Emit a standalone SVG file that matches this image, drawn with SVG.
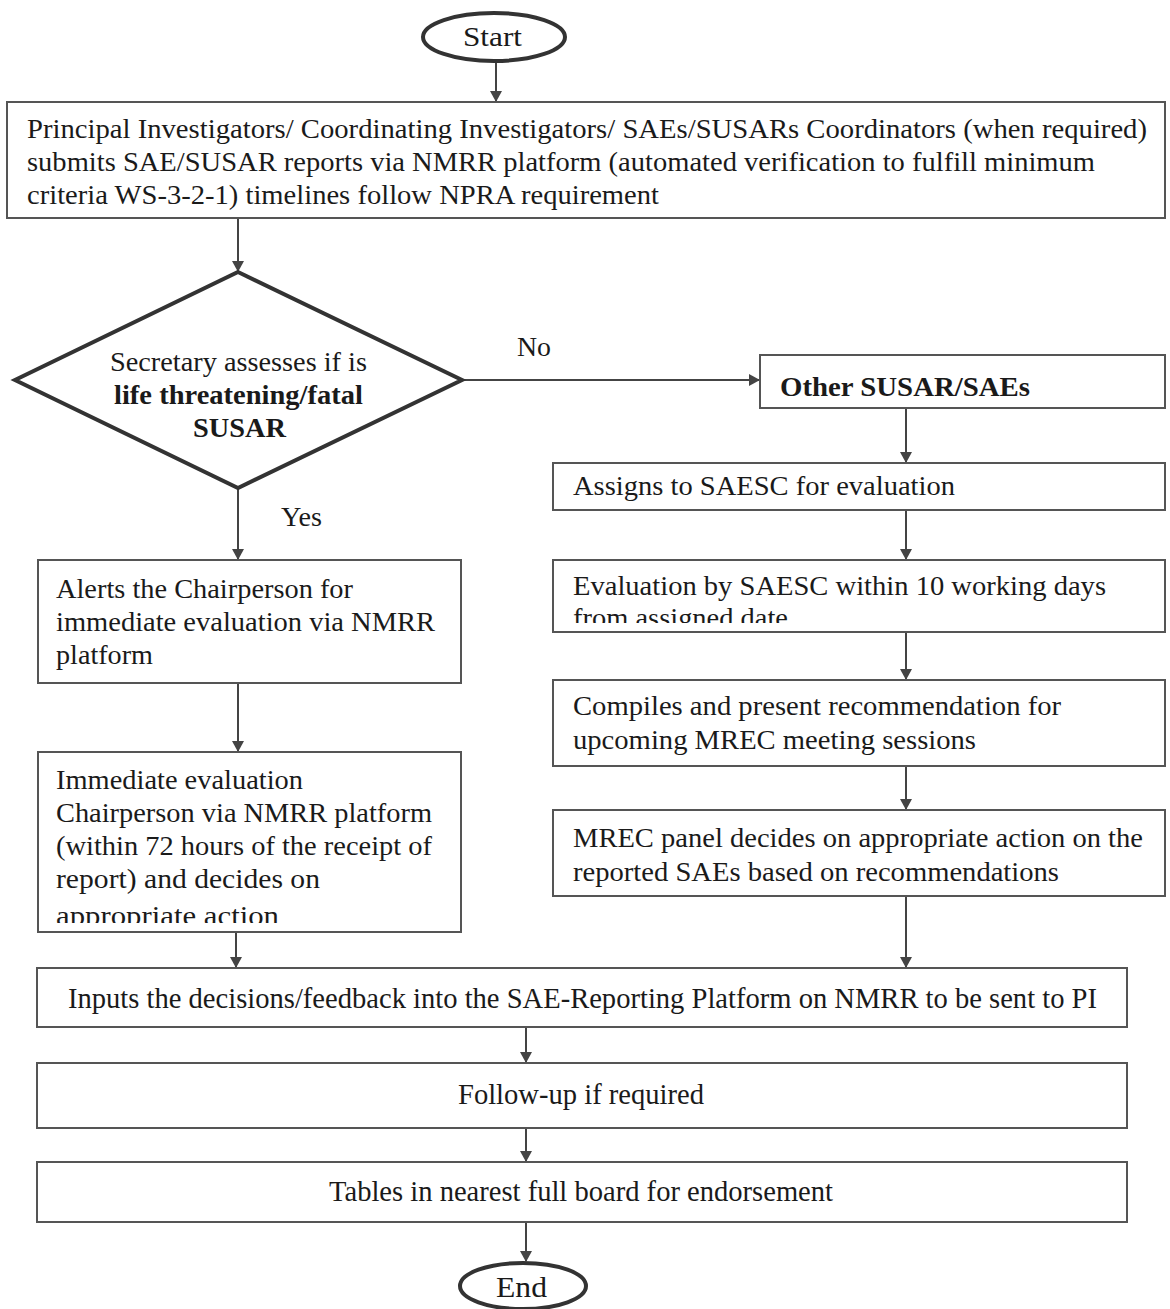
<svg xmlns="http://www.w3.org/2000/svg" width="1170" height="1309" viewBox="0 0 1170 1309">
<style>
text{font-family:"Liberation Serif","Times New Roman",serif;font-size:28px;fill:#1a1a1a}
.b{font-weight:bold}
.box{fill:#fff;stroke:#555;stroke-width:2}
.thick{fill:#fff;stroke:#333;stroke-width:4}
.c{stroke:#444;stroke-width:2;fill:none;marker-end:url(#ah)}
.t{font-size:30px}
</style>
<defs>
<marker id="ah" markerWidth="12" markerHeight="12" refX="10" refY="6" orient="auto" markerUnits="userSpaceOnUse">
<path d="M0,0 L11,6 L0,12 Z" fill="#444"/>
</marker>
<clipPath id="cEval"><rect x="553" y="560" width="612" height="63"/></clipPath>
<clipPath id="cImm"><rect x="38" y="752" width="423" height="171"/></clipPath>
</defs>
<g id="connectors">
<line class="c" x1="496" y1="62" x2="496" y2="101"/>
<line class="c" x1="238" y1="218" x2="238" y2="271"/>
<line class="c" x1="462" y1="380" x2="759" y2="380"/>
<line class="c" x1="238" y1="488" x2="238" y2="559"/>
<line class="c" x1="906" y1="408" x2="906" y2="462"/>
<line class="c" x1="906" y1="510" x2="906" y2="559"/>
<line class="c" x1="906" y1="632" x2="906" y2="679"/>
<line class="c" x1="906" y1="766" x2="906" y2="809"/>
<line class="c" x1="906" y1="896" x2="906" y2="967"/>
<line class="c" x1="238" y1="683" x2="238" y2="751"/>
<line class="c" x1="236" y1="932" x2="236" y2="967"/>
<line class="c" x1="526" y1="1027" x2="526" y2="1062"/>
<line class="c" x1="526" y1="1128" x2="526" y2="1161"/>
<line class="c" x1="526" y1="1222" x2="526" y2="1261"/>
<text x="517" y="356" textLength="34" lengthAdjust="spacingAndGlyphs">No</text>
<text x="281" y="526" textLength="41" lengthAdjust="spacingAndGlyphs">Yes</text>
</g>
<g id="start">
<ellipse class="thick" cx="494" cy="37" rx="71" ry="24"/>
<text x="463" y="46" textLength="59" lengthAdjust="spacingAndGlyphs">Start</text>
</g>
<g id="submit">
<rect class="box" x="7" y="102" width="1158" height="116"/>
<text x="27" y="138" textLength="1120" lengthAdjust="spacingAndGlyphs">Principal Investigators/ Coordinating Investigators/ SAEs/SUSARs Coordinators (when required)</text>
<text x="27" y="171" textLength="1068" lengthAdjust="spacingAndGlyphs">submits SAE/SUSAR reports via NMRR platform (automated verification to fulfill minimum</text>
<text x="27" y="204" textLength="632" lengthAdjust="spacingAndGlyphs">criteria WS-3-2-1) timelines follow NPRA requirement</text>
</g>
<g id="decision">
<polygon class="thick" points="238,272 462,380 238,488 15,380"/>
<text x="110" y="371" textLength="257" lengthAdjust="spacingAndGlyphs">Secretary assesses if is</text>
<text x="114" y="404" class="b" textLength="249" lengthAdjust="spacingAndGlyphs">life threatening/fatal</text>
<text x="193" y="437" class="b" textLength="93" lengthAdjust="spacingAndGlyphs">SUSAR</text>
</g>
<g id="other">
<rect class="box" x="760" y="355" width="405" height="53"/>
<text x="780" y="396" class="b" textLength="250" lengthAdjust="spacingAndGlyphs">Other SUSAR/SAEs</text>
</g>
<g id="assigns">
<rect class="box" x="553" y="463" width="612" height="47"/>
<text x="573" y="495" textLength="382" lengthAdjust="spacingAndGlyphs">Assigns to SAESC for evaluation</text>
</g>
<g id="evaluation">
<rect class="box" x="553" y="560" width="612" height="72"/>
<g clip-path="url(#cEval)">
<text x="573" y="595" textLength="533" lengthAdjust="spacingAndGlyphs">Evaluation by SAESC within 10 working days</text>
<text x="573" y="627" textLength="215" lengthAdjust="spacingAndGlyphs">from assigned date</text>
</g>
</g>
<g id="compiles">
<rect class="box" x="553" y="680" width="612" height="86"/>
<text x="573" y="715" textLength="488" lengthAdjust="spacingAndGlyphs">Compiles and present recommendation for</text>
<text x="573" y="749" textLength="403" lengthAdjust="spacingAndGlyphs">upcoming MREC meeting sessions</text>
</g>
<g id="mrec">
<rect class="box" x="553" y="810" width="612" height="86"/>
<text x="573" y="847" textLength="570" lengthAdjust="spacingAndGlyphs">MREC panel decides on appropriate action on the</text>
<text x="573" y="881" textLength="486" lengthAdjust="spacingAndGlyphs">reported SAEs based on recommendations</text>
</g>
<g id="alerts">
<rect class="box" x="38" y="560" width="423" height="123"/>
<text x="56" y="598" textLength="297" lengthAdjust="spacingAndGlyphs">Alerts the Chairperson for</text>
<text x="56" y="631" textLength="379" lengthAdjust="spacingAndGlyphs">immediate evaluation via NMRR</text>
<text x="56" y="664" textLength="97" lengthAdjust="spacingAndGlyphs">platform</text>
</g>
<g id="immediate">
<rect class="box" x="38" y="752" width="423" height="180"/>
<g clip-path="url(#cImm)">
<text x="56" y="789" textLength="247" lengthAdjust="spacingAndGlyphs">Immediate evaluation</text>
<text x="56" y="822" textLength="376" lengthAdjust="spacingAndGlyphs">Chairperson via NMRR platform</text>
<text x="56" y="855" textLength="376" lengthAdjust="spacingAndGlyphs">(within 72 hours of the receipt of</text>
<text x="56" y="888" textLength="264" lengthAdjust="spacingAndGlyphs">report) and decides on</text>
<text x="56" y="925" textLength="223" lengthAdjust="spacingAndGlyphs">appropriate action</text>
</g>
</g>
<g id="inputs">
<rect class="box" x="37" y="968" width="1090" height="59"/>
<text x="68" y="1008" class="t" textLength="1029" lengthAdjust="spacingAndGlyphs">Inputs the decisions/feedback into the SAE-Reporting Platform on NMRR to be sent to PI</text>
</g>
<g id="followup">
<rect class="box" x="37" y="1063" width="1090" height="65"/>
<text x="458" y="1104" class="t" textLength="246" lengthAdjust="spacingAndGlyphs">Follow-up if required</text>
</g>
<g id="tables">
<rect class="box" x="37" y="1162" width="1090" height="60"/>
<text x="329" y="1201" class="t" textLength="504" lengthAdjust="spacingAndGlyphs">Tables in nearest full board for endorsement</text>
</g>
<g id="end">
<ellipse class="thick" cx="523" cy="1286" rx="63" ry="23"/>
<text x="496" y="1297" class="t" textLength="51" lengthAdjust="spacingAndGlyphs">End</text>
</g>
</svg>
